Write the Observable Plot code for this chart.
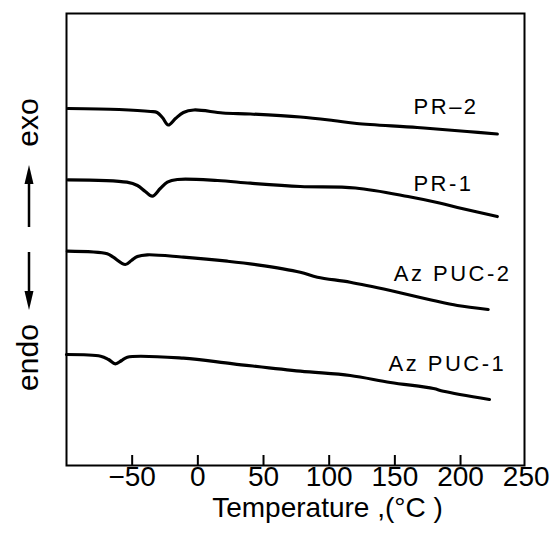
<!DOCTYPE html>
<html><head><meta charset="utf-8">
<script src="https://cdn.jsdelivr.net/npm/d3@7"></script>
<script src="https://cdn.jsdelivr.net/npm/@observablehq/plot@0.6"></script>
<style>
body{margin:0;background:#fff}
svg{display:block;font-family:"Liberation Sans",Arial,sans-serif}
</style>
</head><body><div id="chart"></div>
<script>
// Temperature (°C) and signal (arbitrary units)
const pr2T = [-99, -60, -36, -31, -27, -22.5, -17, -11, -3, 19, 40, 78, 103, 121, 167, 205, 228];
const pr2V = [357, 356, 354, 353, 348, 340.5, 347, 353, 355.5, 352.5, 351.5, 348.5, 345, 342, 338, 334, 331.5];
const pr1T = [-99, -54, -46, -40, -34.7, -28.6, -23.2, -15.6, 15, 40, 78, 120, 160, 184, 201, 228];
const pr1V = [285.7, 283.3, 280, 274, 269.3, 277, 283.3, 286, 285, 282.3, 279, 277.5, 269, 262.5, 257, 249];
const azpuc2T = [-99.4, -69, -64.4, -55.2, -50.6, -46, -38.5, -11, 22.5, 45.3, 78, 91, 116, 146.6, 179.4, 197.6, 221];
const azpuc2V = [214.3, 211.7, 208.3, 201, 205, 209, 210.7, 208.3, 204.3, 200.7, 193.3, 188.3, 183.3, 175, 165, 160, 156];
const azpuc1T = [-100, -74, -68, -62.8, -58, -53.7, -11, 27, 78, 116, 146.6, 179.4, 187, 222];
const azpuc1V = [111, 109.3, 106, 101.7, 105, 108.3, 107.3, 101.7, 94.3, 90, 83, 77, 74.2, 66];

const seriesNames = ["PR–2", "PR-1", "Az PUC-2", "Az PUC-1"];
const labelT = [189, 187, 194, 190];
const labelV = [358.5, 282, 192, 102];

const tickValues = [-50, 0, 50, 100, 150, 200];
const tickLabels = [-50, 0, 50, 100, 150, 200, 250];
const xTitle = "Temperature ,(°C )";
const sideLabels = ["exo", "endo"];
const sideLabelT = [-129, -129];
const sideLabelV = [343, 108];
const arrowUp = [238, 300];   // shaft start, tip (signal units)
const arrowDown = [213, 155];

const temps = [pr2T, pr1T, azpuc2T, azpuc1T];
const vals = [pr2V, pr1V, azpuc2V, azpuc1V];
const data = seriesNames.flatMap((name, i) => temps[i].map((t, j) => ({name, t, v: vals[i][j]})));
const labels = seriesNames.map((name, i) => ({name, t: labelT[i], v: labelV[i]}));
const sides = sideLabels.map((name, i) => ({name, t: sideLabelT[i], v: sideLabelV[i]}));

const chart = Plot.plot({
  width: 554, height: 540,
  marginLeft: 66, marginRight: 30, marginTop: 13, marginBottom: 75,
  style: {fontFamily: "Liberation Sans, Arial, sans-serif", background: "#fff", overflow: "visible"},
  x: {domain: [-100, 248.7], axis: null},
  y: {domain: [0, 452], axis: null},
  marks: [
    Plot.frame({stroke: "#000", strokeWidth: 2}),
    Plot.ruleX(tickValues, {x: d => d, y1: 0, y2: 10, stroke: "#000", strokeWidth: 2}),
    Plot.text(tickLabels, {x: d => d, frameAnchor: "bottom", dy: 20, fontSize: 28, fill: "#000",
      text: d => d < 0 ? "−" + Math.abs(d) : String(d)}),
    Plot.text([xTitle], {frameAnchor: "bottom", dx: 32, dy: 51, fontSize: 28, fill: "#000"}),
    Plot.line(data, {x: "t", y: "v", z: "name", stroke: "#000", strokeWidth: 3.2, curve: "catmull-rom", strokeLinecap: "round", strokeLinejoin: "round"}),
    Plot.text(labels, {x: "t", y: "v", text: "name", fontSize: 22, fill: "#000"}),
    Plot.text(sides, {x: "t", y: "v", text: "name", rotate: -90, fontSize: 30, fill: "#000"})
  ]
});

const svg = d3.select(chart);
svg.selectAll("text").filter(function() { return seriesNames.includes(this.textContent); })
  .attr("letter-spacing", "2.5px").style("letter-spacing", "2.5px");

const xs = chart.scale("x"), ys = chart.scale("y");
const ax = xs.apply(-100) - 37;
for (const [s, e] of [arrowUp, arrowDown]) {
  const y0 = ys.apply(s), y1 = ys.apply(e);
  const dir = Math.sign(y1 - y0);
  const headLen = 19, headW = 4.5;
  svg.append("line").attr("x1", ax).attr("x2", ax).attr("y1", y0).attr("y2", y1 - dir * headLen)
    .attr("stroke", "#000").attr("stroke-width", 2.5);
  svg.append("path")
    .attr("d", `M${ax},${y1} L${ax - headW},${y1 - dir * headLen} L${ax + headW},${y1 - dir * headLen} Z`)
    .attr("fill", "#000");
}

document.getElementById("chart").appendChild(chart);
</script>
</body></html>
